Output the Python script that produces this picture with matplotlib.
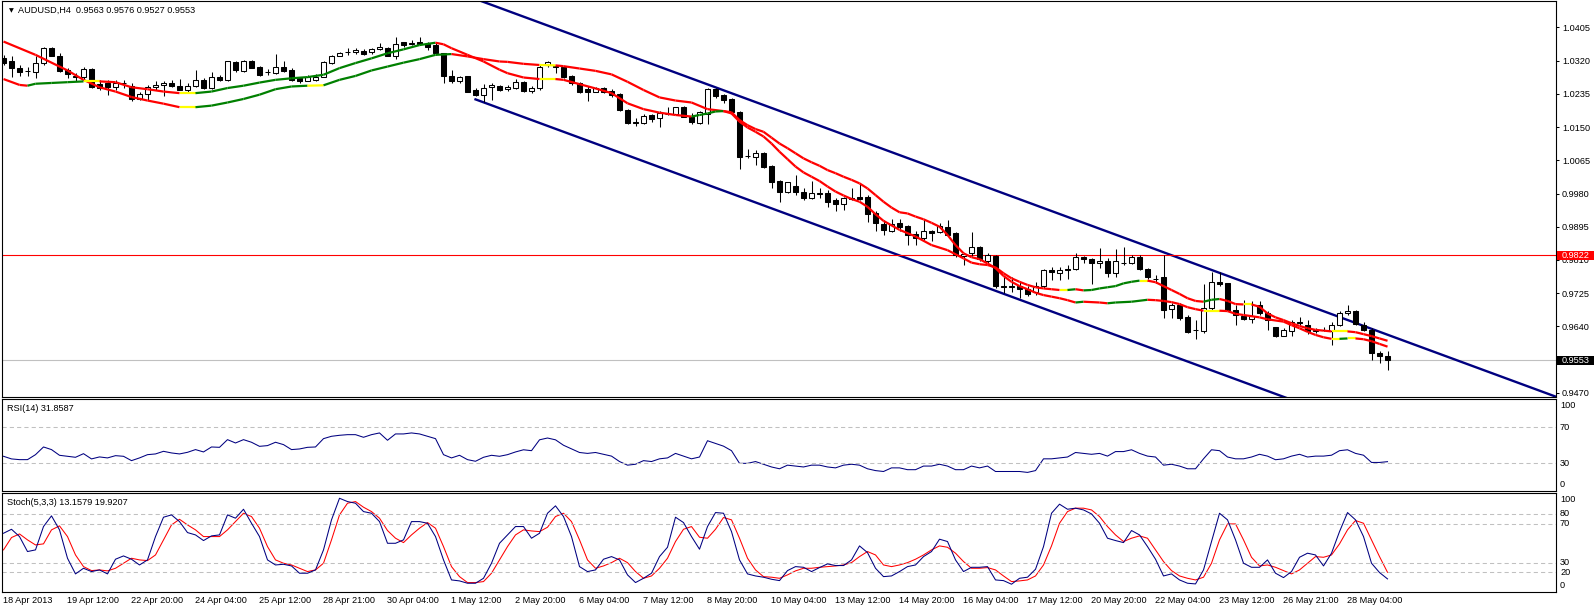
import matplotlib
matplotlib.use("Agg")
import matplotlib.pyplot as plt
import numpy as np
from matplotlib.collections import LineCollection
from matplotlib.patches import Rectangle
from matplotlib.transforms import blended_transform_factory

# ---- data ----
opens = [1.0326, 1.0319, 1.0301, 1.0294, 1.0291, 1.0314, 1.0352, 1.0332, 1.0297, 1.0281,
         1.0279, 1.0298, 1.0261, 1.0264, 1.0252, 1.0263, 1.0256, 1.0223, 1.0234, 1.0252,
         1.0258, 1.0263, 1.0256, 1.0245, 1.0254, 1.0271, 1.0250, 1.0279, 1.0271, 1.0317,
         1.0294, 1.0319, 1.0303, 1.0292, 1.0288, 1.0305, 1.0297, 1.0275, 1.0268, 1.0271,
         1.0278, 1.0314, 1.0332, 1.0342, 1.0341, 1.0346, 1.0341, 1.0350, 1.0353, 1.0332,
         1.0367, 1.0364, 1.0369, 1.0364, 1.0359, 1.0339, 1.0281, 1.0267, 1.0281, 1.0245,
         1.0232, 1.0252, 1.0255, 1.0247, 1.0249, 1.0266, 1.0243, 1.0249, 1.0309, 1.0306,
         1.0305, 1.0281, 1.0262, 1.0247, 1.0241, 1.0250, 1.0243, 1.0235, 1.0194, 1.0162,
         1.0160, 1.0181, 1.0173, 1.0184, 1.0184, 1.0201, 1.0177, 1.0161, 1.0183, 1.0248,
         1.0232, 1.0222, 1.0188, 1.0076, 1.0073, 1.0083, 1.0051, 1.0012, 0.9983, 1.0000,
         0.9983, 0.9968, 0.9981, 0.9981, 0.9963, 0.9952, 0.9968, 0.9972, 0.9972, 0.9929,
         0.9901, 0.9885, 0.9904, 0.9897, 0.9876, 0.9867, 0.9884, 0.9882, 0.9894, 0.9878,
         0.9819, 0.9827, 0.9842, 0.9808, 0.9820, 0.9742, 0.9741, 0.9742, 0.9735, 0.9729,
         0.9742, 0.9784, 0.9776, 0.9786, 0.9786, 0.9818, 0.9812, 0.9801, 0.9808, 0.9777,
         0.9801, 0.9801, 0.9817, 0.9786, 0.9761, 0.9766, 0.9684, 0.9695, 0.9663, 0.9630,
         0.9627, 0.9686, 0.9754, 0.9750, 0.9682, 0.9667, 0.9658, 0.9695, 0.9673, 0.9638,
         0.9615, 0.9629, 0.9651, 0.9644, 0.9627, 0.9631, 0.9627, 0.9644, 0.9673, 0.9679,
         0.9644, 0.9631, 0.9571, 0.9563]
highs = [1.0335, 1.0331, 1.0309, 1.0305, 1.0331, 1.0356, 1.0356, 1.0339, 1.0301, 1.0288,
         1.0305, 1.0301, 1.0271, 1.0271, 1.0271, 1.0271, 1.0263, 1.0239, 1.0258, 1.0267,
         1.0267, 1.0271, 1.0273, 1.0263, 1.0295, 1.0275, 1.0290, 1.0284, 1.0320, 1.0318,
         1.0322, 1.0322, 1.0307, 1.0298, 1.0336, 1.0319, 1.0301, 1.0279, 1.0284, 1.0286,
         1.0318, 1.0335, 1.0343, 1.0353, 1.0352, 1.0349, 1.0352, 1.0366, 1.0356, 1.0380,
         1.0369, 1.0373, 1.0380, 1.0369, 1.0365, 1.0339, 1.0297, 1.0281, 1.0281, 1.0250,
         1.0260, 1.0262, 1.0258, 1.0258, 1.0272, 1.0269, 1.0256, 1.0308, 1.0320, 1.0308,
         1.0306, 1.0283, 1.0266, 1.0255, 1.0252, 1.0252, 1.0247, 1.0238, 1.0196, 1.0173,
         1.0184, 1.0184, 1.0190, 1.0201, 1.0202, 1.0204, 1.0185, 1.0191, 1.0249, 1.0251,
         1.0234, 1.0224, 1.0191, 1.0094, 1.0091, 1.0085, 1.0053, 1.0015, 1.0010, 1.0027,
         0.9993, 1.0012, 0.9993, 0.9989, 0.9968, 0.9972, 0.9995, 1.0004, 0.9976, 0.9934,
         0.9912, 0.9915, 0.9914, 0.9899, 0.9885, 0.9916, 0.9887, 0.9904, 0.9912, 0.9882,
         0.9827, 0.9882, 0.9846, 0.9827, 0.9823, 0.9766, 0.9766, 0.9754, 0.9742, 0.9754,
         0.9786, 0.9791, 0.9791, 0.9797, 0.9827, 0.9820, 0.9814, 0.9840, 0.9814, 0.9837,
         0.9844, 0.9823, 0.9823, 0.9789, 0.9772, 0.9823, 0.9699, 0.9699, 0.9669, 0.9656,
         0.9748, 0.9778, 0.9780, 0.9752, 0.9695, 0.9708, 0.9706, 0.9706, 0.9678, 0.9639,
         0.9635, 0.9656, 0.9665, 0.9655, 0.9635, 0.9639, 0.9652, 0.9678, 0.9695, 0.9682,
         0.9652, 0.9635, 0.9578, 0.9576]
lows = [1.0309, 1.0278, 1.0281, 1.0281, 1.0275, 1.0309, 1.0331, 1.0290, 1.0275, 1.0267,
        1.0271, 1.0250, 1.0245, 1.0233, 1.0245, 1.0250, 1.0216, 1.0220, 1.0220, 1.0245,
        1.0229, 1.0252, 1.0244, 1.0237, 1.0252, 1.0247, 1.0247, 1.0267, 1.0267, 1.0292,
        1.0290, 1.0301, 1.0281, 1.0284, 1.0286, 1.0292, 1.0267, 1.0264, 1.0267, 1.0267,
        1.0278, 1.0312, 1.0331, 1.0335, 1.0337, 1.0335, 1.0337, 1.0347, 1.0331, 1.0324,
        1.0356, 1.0360, 1.0363, 1.0347, 1.0335, 1.0264, 1.0264, 1.0264, 1.0239, 1.0229,
        1.0215, 1.0219, 1.0243, 1.0242, 1.0248, 1.0241, 1.0237, 1.0245, 1.0305, 1.0289,
        1.0275, 1.0258, 1.0238, 1.0218, 1.0239, 1.0237, 1.0226, 1.0190, 1.0158, 1.0153,
        1.0158, 1.0164, 1.0150, 1.0180, 1.0181, 1.0175, 1.0157, 1.0159, 1.0157, 1.0225,
        1.0211, 1.0185, 1.0043, 1.0070, 1.0053, 1.0046, 0.9993, 0.9958, 0.9981, 0.9976,
        0.9963, 0.9966, 0.9968, 0.9946, 0.9935, 0.9938, 0.9963, 0.9963, 0.9906, 0.9884,
        0.9874, 0.9882, 0.9885, 0.9848, 0.9848, 0.9861, 0.9859, 0.9878, 0.9871, 0.9818,
        0.9797, 0.9820, 0.9806, 0.9801, 0.9737, 0.9725, 0.9729, 0.9712, 0.9718, 0.9720,
        0.9737, 0.9759, 0.9759, 0.9760, 0.9784, 0.9801, 0.9748, 0.9789, 0.9767, 0.9767,
        0.9797, 0.9799, 0.9783, 0.9760, 0.9750, 0.9661, 0.9661, 0.9657, 0.9622, 0.9607,
        0.9624, 0.9682, 0.9743, 0.9678, 0.9644, 0.9655, 0.9648, 0.9669, 0.9631, 0.9612,
        0.9614, 0.9615, 0.9644, 0.9621, 0.9622, 0.9627, 0.9592, 0.9641, 0.9669, 0.9643,
        0.9627, 0.9554, 0.9546, 0.9527]
closes = [1.0315, 1.0301, 1.0292, 1.0293, 1.0314, 1.0352, 1.0332, 1.0294, 1.0286, 1.0277,
          1.0298, 1.0252, 1.0251, 1.0252, 1.0264, 1.0262, 1.0222, 1.0234, 1.0252, 1.0257,
          1.0264, 1.0254, 1.0245, 1.0256, 1.0271, 1.0250, 1.0278, 1.0271, 1.0318, 1.0295,
          1.0319, 1.0302, 1.0284, 1.0291, 1.0303, 1.0294, 1.0271, 1.0267, 1.0278, 1.0278,
          1.0316, 1.0332, 1.0339, 1.0343, 1.0347, 1.0337, 1.0350, 1.0356, 1.0332, 1.0364,
          1.0360, 1.0364, 1.0364, 1.0356, 1.0339, 1.0281, 1.0267, 1.0277, 1.0241, 1.0231,
          1.0249, 1.0258, 1.0245, 1.0252, 1.0265, 1.0243, 1.0249, 1.0305, 1.0317, 1.0304,
          1.0277, 1.0262, 1.0241, 1.0241, 1.0249, 1.0239, 1.0232, 1.0194, 1.0160, 1.0161,
          1.0179, 1.0171, 1.0185, 1.0183, 1.0201, 1.0177, 1.0164, 1.0188, 1.0248, 1.0230,
          1.0219, 1.0188, 1.0074, 1.0075, 1.0083, 1.0049, 1.0010, 0.9983, 1.0009, 0.9983,
          0.9969, 0.9981, 0.9980, 0.9959, 0.9952, 0.9968, 0.9967, 0.9966, 0.9927, 0.9904,
          0.9887, 0.9901, 0.9895, 0.9874, 0.9865, 0.9884, 0.9880, 0.9897, 0.9874, 0.9823,
          0.9825, 0.9842, 0.9812, 0.9823, 0.9742, 0.9741, 0.9742, 0.9735, 0.9723, 0.9742,
          0.9784, 0.9780, 0.9784, 0.9785, 0.9817, 0.9812, 0.9801, 0.9808, 0.9777, 0.9806,
          0.9802, 0.9817, 0.9786, 0.9766, 0.9760, 0.9682, 0.9695, 0.9661, 0.9626, 0.9631,
          0.9686, 0.9754, 0.9748, 0.9682, 0.9669, 0.9658, 0.9667, 0.9673, 0.9655, 0.9614,
          0.9631, 0.9650, 0.9648, 0.9627, 0.9631, 0.9630, 0.9644, 0.9673, 0.9679, 0.9646,
          0.9631, 0.9571, 0.9563, 0.9553]

# two moving-average lines (bar index, price)
ma_slow_bars = [0, 4, 8, 10, 12, 14, 16, 18, 20, 22, 24, 26, 28, 30, 32, 34, 36, 38, 40, 42,
                44, 46, 48, 50, 52, 54, 56, 58, 60, 62, 63, 65, 67, 69, 70, 72, 74, 76, 78, 80,
                82, 84, 86, 88, 90, 91, 92, 93, 94, 95, 96, 97, 98, 99, 100, 101, 102, 103, 104,
                105, 106, 107, 108, 109, 110, 111, 112, 113, 114, 115, 116, 117, 118, 119, 120,
                121, 122, 123, 124, 125, 126, 127, 128, 129, 130, 131, 132, 133, 134, 135, 137,
                138, 139, 141, 143, 144, 145, 146, 147, 148, 149, 150, 151, 152, 153, 154, 155,
                157, 158, 160, 161, 162, 163, 164, 165, 166, 167, 168, 169, 170, 171, 172, 173]
ma_slow_vals = [1.0369, 1.0335, 1.0295, 1.0271, 1.0252, 1.0241, 1.0227, 1.0218, 1.0210, 1.0201,
                1.0201, 1.0205, 1.0213, 1.0222, 1.0233, 1.0247, 1.0254, 1.0256, 1.0257, 1.0271,
                1.0281, 1.0295, 1.0305, 1.0315, 1.0324, 1.0335, 1.0337, 1.0331, 1.0324, 1.0318,
                1.0317, 1.0312, 1.0309, 1.0308, 1.0306, 1.0300, 1.0294, 1.0285, 1.0266, 1.0245,
                1.0226, 1.0218, 1.0213, 1.0196, 1.0191, 1.0188, 1.0168, 1.0155, 1.0145, 1.0138,
                1.0123, 1.0108, 1.0096, 1.0083, 1.0070, 1.0060, 1.0051, 1.0040, 1.0032, 1.0023,
                1.0015, 1.0006, 0.9993, 0.9976, 0.9959, 0.9944, 0.9932, 0.9929, 0.9921, 0.9914,
                0.9905, 0.9895, 0.9874, 0.9848, 0.9827, 0.9817, 0.9812, 0.9801, 0.9789, 0.9769,
                0.9754, 0.9743, 0.9735, 0.9726, 0.9720, 0.9716, 0.9712, 0.9707, 0.9701, 0.9703,
                0.9701, 0.9699, 0.9701, 0.9703, 0.9708, 0.9707, 0.9705, 0.9702, 0.9697, 0.9689,
                0.9684, 0.9680, 0.9680, 0.9680, 0.9679, 0.9672, 0.9669, 0.9663, 0.9658, 0.9652,
                0.9643, 0.9635, 0.9626, 0.9618, 0.9612, 0.9608, 0.9608, 0.9609, 0.9609, 0.9607,
                0.9602, 0.9595, 0.9588]
ma_fast_bars = [0, 2, 3, 4, 6, 8, 10, 12, 14, 16, 18, 20, 22, 24, 26, 28, 30, 32, 34, 36, 38,
                40, 42, 44, 46, 48, 50, 52, 54, 55, 56, 58, 60, 62, 63, 65, 67, 69, 70, 72, 74,
                76, 78, 80, 82, 84, 86, 87, 88, 89, 90, 91, 92, 93, 94, 95, 96, 97, 98, 99, 100,
                101, 102, 103, 104, 105, 106, 107, 108, 109, 110, 112, 114, 116, 118, 120, 121,
                122, 123, 124, 125, 126, 127, 128, 129, 130, 131, 132, 133, 134, 135, 136, 137,
                138, 139, 140, 141, 142, 143, 144, 145, 146, 147, 148, 149, 150, 151, 152, 153,
                154, 155, 156, 157, 158, 159, 160, 161, 162, 163, 164, 165, 166, 167, 168, 169,
                170, 171, 172, 173]
ma_fast_vals = [1.0273, 1.0258, 1.0256, 1.0261, 1.0263, 1.0265, 1.0267, 1.0267, 1.0265, 1.0252,
                1.0247, 1.0241, 1.0237, 1.0237, 1.0241, 1.0250, 1.0256, 1.0264, 1.0271, 1.0275,
                1.0278, 1.0284, 1.0301, 1.0314, 1.0326, 1.0339, 1.0349, 1.0360, 1.0366, 1.0362,
                1.0352, 1.0335, 1.0318, 1.0297, 1.0288, 1.0277, 1.0273, 1.0273, 1.0271, 1.0260,
                1.0249, 1.0237, 1.0211, 1.0196, 1.0187, 1.0181, 1.0177, 1.0181, 1.0185, 1.0190,
                1.0191, 1.0185, 1.0164, 1.0149, 1.0138, 1.0126, 1.0108, 1.0087, 1.0068, 1.0049,
                1.0034, 1.0023, 1.0012, 0.9998, 0.9985, 0.9975, 0.9966, 0.9959, 0.9946, 0.9927,
                0.9910, 0.9887, 0.9870, 0.9848, 0.9835, 0.9814, 0.9803, 0.9799, 0.9797, 0.9791,
                0.9776, 0.9763, 0.9754, 0.9746, 0.9740, 0.9737, 0.9735, 0.9733, 0.9733, 0.9735,
                0.9732, 0.9733, 0.9737, 0.9740, 0.9743, 0.9750, 0.9754, 0.9757, 0.9757, 0.9753,
                0.9743, 0.9733, 0.9723, 0.9712, 0.9705, 0.9703, 0.9708, 0.9710, 0.9705, 0.9697,
                0.9696, 0.9696, 0.9690, 0.9673, 0.9663, 0.9656, 0.9648, 0.9641, 0.9635, 0.9631,
                0.9629, 0.9627, 0.9627, 0.9627, 0.9625, 0.9620, 0.9615, 0.9609, 0.9603]

# trend channel anchors (bar, price)
channel_bars = [59, 200]
channel_upper = [1.0478, 0.9415]
channel_lower = [1.0221, 0.9158]
resistance_level = 0.9822
bid_price = 0.9553

rsi = [37.8, 34.9, 34.1, 34.1, 39.6, 48.1, 45.2, 38.9, 37.8, 36.7,
       40.7, 34.9, 37.1, 36.0, 38.5, 37.8, 33.0, 36.0, 39.6, 40.4,
       43.3, 41.5, 40.4, 42.2, 45.2, 42.6, 48.1, 47.7, 56.2, 52.5,
       56.2, 53.3, 48.8, 49.6, 53.3, 50.7, 45.2, 45.9, 47.7, 48.1,
       57.3, 59.9, 61.0, 61.7, 61.7, 58.8, 61.7, 63.6, 55.5, 62.5,
       62.5, 63.6, 62.5, 59.9, 57.3, 39.6, 36.0, 38.9, 34.1, 32.3,
       36.7, 38.9, 37.8, 39.6, 42.6, 45.0, 44.0, 56.0, 58.0, 56.0,
       50.0, 46.0, 42.0, 41.0, 42.0, 40.0, 38.0, 32.0, 28.0, 29.0,
       33.0, 32.0, 35.0, 36.0, 41.0, 38.0, 35.0, 37.0, 55.0, 52.0,
       49.0, 44.0, 30.0, 30.0, 32.0, 29.0, 26.0, 24.0, 28.0, 27.0,
       26.0, 28.0, 28.0, 26.0, 25.0, 28.0, 29.0, 28.0, 24.0, 22.0,
       21.0, 25.0, 25.0, 23.0, 23.0, 27.0, 27.0, 29.0, 27.0, 23.0,
       23.0, 27.0, 25.0, 27.0, 21.0, 21.0, 21.0, 21.0, 20.0, 22.0,
       35.0, 35.0, 36.0, 37.0, 42.0, 41.0, 40.0, 41.0, 38.0, 43.0,
       43.0, 45.0, 41.0, 38.0, 37.0, 28.0, 29.0, 27.0, 24.0, 24.0,
       35.0, 45.0, 44.0, 37.0, 35.0, 35.0, 37.0, 40.0, 38.0, 34.0,
       35.0, 38.0, 40.0, 37.0, 38.0, 38.0, 39.0, 44.0, 45.0, 41.0,
       39.0, 31.0, 31.0, 31.86]

stoch_main = [60.1, 64.2, 56.7, 41.3, 43.0, 67.0, 78.0, 63.6, 34.4, 18.3,
              24.1, 20.7, 22.4, 18.3, 33.4, 36.8, 33.4, 27.5, 32.7, 56.7,
              76.6, 79.0, 72.1, 60.8, 58.4, 52.6, 57.4, 58.4, 79.0, 75.6,
              84.8, 70.4, 56.7, 32.7, 27.5, 28.2, 26.5, 19.0, 19.0, 22.4,
              43.0, 73.9, 96.1, 92.7, 91.0, 82.4, 80.7, 72.1, 49.8, 49.8,
              53.3, 72.1, 72.1, 70.4, 56.7, 32.7, 12.1, 11.1, 8.7, 8.7,
              13.8, 29.3, 49.8, 58.4, 67.0, 67.0, 55.0, 60.1, 80.7, 88.3,
              77.3, 56.7, 25.8, 20.7, 22.4, 33.4, 36.1, 32.7, 17.3, 9.4,
              13.8, 19.0, 36.1, 45.7, 76.6, 71.1, 56.7, 43.7, 67.0, 81.4,
              80.7, 61.8, 32.7, 18.3, 16.2, 14.9, 12.8, 11.4, 21.7, 25.8,
              25.1, 20.7, 24.8, 28.6, 26.9, 26.9, 32.7, 47.1, 40.2, 24.1,
              15.5, 16.2, 20.7, 25.8, 27.5, 36.1, 41.3, 54.0, 51.6, 32.7,
              20.7, 25.1, 25.1, 25.8, 12.1, 11.4, 7.7, 13.8, 14.9, 23.1,
              46.4, 80.7, 90.0, 84.8, 85.9, 84.1, 80.0, 70.4, 55.0, 52.6,
              50.5, 62.9, 58.4, 46.4, 33.4, 16.2, 18.3, 12.1, 8.7, 8.0,
              22.4, 51.6, 80.7, 73.9, 53.3, 29.3, 25.1, 25.1, 32.7, 19.0,
              14.5, 20.7, 35.4, 39.6, 37.8, 26.5, 39.6, 61.8, 81.4, 73.9,
              56.7, 29.3, 19.7, 13.16]
stoch_signal = [43.0, 55.7, 59.4, 53.3, 48.1, 49.2, 63.6, 67.7, 56.7, 37.8,
                25.8, 21.7, 22.4, 21.4, 24.1, 29.3, 34.4, 32.7, 32.0, 37.8,
                53.3, 68.7, 74.5, 68.7, 63.6, 56.7, 56.7, 56.7, 63.6, 72.1,
                80.7, 77.3, 65.3, 46.4, 32.7, 29.3, 27.5, 24.1, 20.7, 22.4,
                29.3, 53.3, 79.0, 91.0, 92.7, 86.9, 82.4, 75.6, 62.9, 55.0,
                50.5, 58.4, 65.3, 71.1, 65.3, 46.4, 25.8, 15.5, 9.4, 9.4,
                10.4, 19.0, 32.7, 46.4, 58.4, 63.6, 62.5, 61.8, 66.3, 77.3,
                80.7, 72.1, 53.3, 32.7, 24.1, 26.5, 29.9, 34.4, 29.9, 20.7,
                13.8, 16.2, 24.1, 34.4, 51.6, 64.2, 67.0, 56.0, 55.0, 64.2,
                76.3, 73.9, 55.0, 34.4, 22.4, 15.5, 14.9, 13.8, 17.3, 21.4,
                24.1, 24.1, 25.1, 25.8, 26.5, 27.5, 29.9, 36.1, 41.3, 37.8,
                27.5, 25.8, 27.5, 29.9, 33.4, 37.8, 43.0, 47.1, 45.7, 39.6,
                31.0, 24.1, 24.1, 24.8, 22.4, 16.2, 10.4, 11.1, 12.1, 16.2,
                27.5, 47.1, 70.4, 82.4, 85.9, 85.9, 84.1, 77.3, 67.0, 58.4,
                51.6, 55.0, 57.4, 55.0, 43.0, 31.0, 21.7, 16.2, 13.8, 12.1,
                14.9, 29.3, 53.3, 69.7, 69.7, 53.3, 35.4, 26.5, 27.5, 25.1,
                21.7, 18.3, 22.4, 29.3, 36.1, 35.4, 37.8, 49.2, 63.6, 73.2,
                70.4, 53.3, 36.1, 19.92]

date_labels = ["18 Apr 2013", "19 Apr 12:00", "22 Apr 20:00", "24 Apr 04:00", "25 Apr 12:00",
               "28 Apr 21:00", "30 Apr 04:00", "1 May 12:00", "2 May 20:00", "6 May 04:00",
               "7 May 12:00", "8 May 20:00", "10 May 04:00", "13 May 12:00", "14 May 20:00",
               "16 May 04:00", "17 May 12:00", "20 May 20:00", "22 May 04:00", "23 May 12:00",
               "26 May 21:00", "28 May 04:00"]
date_label_bars = list(range(0, 8 * len(date_labels), 8))
price_ticks = [1.0405, 1.0320, 1.0235, 1.0150, 1.0065, 0.9980, 0.9895, 0.9810,
               0.9725, 0.9640, 0.9555, 0.9470]

# ---- figure ----
W, H = 1596, 610
plt.rcParams['font.family'] = ['Liberation Sans', 'DejaVu Sans']
FS = 6.6
fig = plt.figure(figsize=(W / 100, H / 100), dpi=100)
fig.patch.set_facecolor('white')


def px_axes(x0, y0, x1, y1):
    return fig.add_axes([x0 / W, 1 - y1 / H, (x1 - x0) / W, (y1 - y0) / H])


ax = px_axes(1.5, 0.5, 1556, 397)
ax_rsi = px_axes(1.5, 399, 1556, 491)
ax_sto = px_axes(1.5, 493.3, 1556, 591.7)

XMIN, XMAX = -0.25, 194.06
for a in (ax, ax_rsi, ax_sto):
    a.set_xlim(XMIN, XMAX)
    a.set_xticks([])
    for s in a.spines.values():
        s.set_linewidth(0.8)
        s.set_color('black')

ax.set_ylim(0.94591, 1.04741)
ax_rsi.set_ylim(-0.55, 101.1)
ax_sto.set_ylim(0.0, 101.2)

# candles
o, hi, lo, c = map(np.array, (opens, highs, lows, closes))
xb = np.arange(len(o))
bull = c >= o
body_lo = np.minimum(o, c)
body_h = np.maximum(np.abs(c - o), 0.00002)
ax.vlines(xb, lo, hi, color='black', lw=0.75, zorder=3)
ax.bar(xb, body_h, bottom=body_lo, width=0.6,
       color=np.where(bull, 'white', 'black'), edgecolor='black', linewidth=0.75, zorder=4)


def colored_ma(bars, vals):
    bars = np.asarray(bars, float)
    vals = np.asarray(vals, float)
    slope = np.diff(vals) / np.diff(bars)
    cols = np.where(slope > 0.00006, '#008000', np.where(slope < -0.00006, '#FF0000', '#FFFF00'))
    pts = np.column_stack([bars, vals])
    segs = np.stack([pts[:-1], pts[1:]], axis=1)
    ax.add_collection(LineCollection(segs, colors=cols, linewidths=1.6, zorder=5,
                                     capstyle='butt'))


colored_ma(ma_slow_bars, ma_slow_vals)
colored_ma(ma_fast_bars, ma_fast_vals)

# channel and levels
ax.plot(channel_bars, channel_upper, color='#000080', lw=1.7, zorder=2)
ax.plot(channel_bars, channel_lower, color='#000080', lw=1.7, zorder=2)
ax.axhline(resistance_level, color='#FF0000', lw=0.8, zorder=2)
ax.axhline(bid_price, color='#C0C0C0', lw=0.8, zorder=1)

# price scale
ax.yaxis.tick_right()
ax.set_yticks(price_ticks)
ax.set_yticklabels([f"{t:.4f}" for t in price_ticks])
ax.tick_params(axis='y', length=2.3, width=0.75, pad=2, labelsize=FS, colors='black')

tr = blended_transform_factory(ax.transAxes, ax.transData)
pxw = 1.0 / 1554.5
pxp = (1.04741 - 0.94591) / 396.5
for val, fc in [(resistance_level, '#FF0000'), (bid_price, 'black')]:
    ax.add_patch(Rectangle((1 + 1 * pxw, val - 4.5 * pxp), 37 * pxw, 9 * pxp, transform=tr,
                           facecolor=fc, edgecolor='none', clip_on=False, zorder=9))
    ax.text(1 + 5.5 * pxw, val, f"{val:.4f}", transform=tr, color='white', fontsize=FS,
            va='center', ha='left', zorder=10, clip_on=False)

# RSI
ax_rsi.plot(xb, rsi, color='#000080', lw=0.75)
for lv in (70, 30):
    ax_rsi.axhline(lv, color='#C0C0C0', lw=0.75, ls=(0, (4, 3)))
ax_rsi.set_yticks([])

# Stochastic
ax_sto.plot(xb, stoch_main, color='#000080', lw=0.75, zorder=3)
ax_sto.plot(xb, stoch_signal, color='#FF0000', lw=0.75, zorder=2)
for lv in (80, 70, 30, 20):
    ax_sto.axhline(lv, color='#C0C0C0', lw=0.75, ls=(0, (4, 3)))
ax_sto.set_yticks([])


def side_label(a, val, txt, dy):
    a.annotate(txt, xy=(1, val), xycoords=('axes fraction', 'data'), xytext=(4, dy),
               textcoords='offset pixels', fontsize=FS, va='center', ha='left',
               annotation_clip=False)


for val, dy in [(100, -6), (70, 0), (30, 0), (0, 6)]:
    side_label(ax_rsi, val, str(val), dy)
for val, dy in [(100, -5.5), (80, 0), (70, 0), (30, 0), (20, 0), (0, 6.4)]:
    side_label(ax_sto, val, str(val), dy)

# time axis
for b, lab in zip(date_label_bars, date_labels):
    ax_sto.annotate(lab, xy=(b, 0), xycoords=('data', 'axes fraction'), xytext=(-1, -8.5),
                    textcoords='offset pixels', fontsize=FS, va='center', ha='left',
                    annotation_clip=False)

# panel captions
ax.text(7.5 / 1554.5, 1 - 10 / 396.5, "\u25BC", transform=ax.transAxes, fontsize=4.5,
        family='DejaVu Sans', va='center', ha='left')
ax.text(17 / 1554.5, 1 - 10 / 396.5, "AUDUSD,H4  0.9563 0.9576 0.9527 0.9553",
        transform=ax.transAxes, fontsize=FS, va='center', ha='left')
ax_rsi.text(5.5 / 1554.5, 1 - 9.5 / 92, "RSI(14) 31.8587", transform=ax_rsi.transAxes,
            fontsize=FS, va='center', ha='left')
ax_sto.text(5.5 / 1554.5, 1 - 9.5 / 98.4, "Stoch(5,3,3) 13.1579 19.9207",
            transform=ax_sto.transAxes, fontsize=FS, va='center', ha='left')

fig.savefig("out.png", dpi=100, facecolor='white')
